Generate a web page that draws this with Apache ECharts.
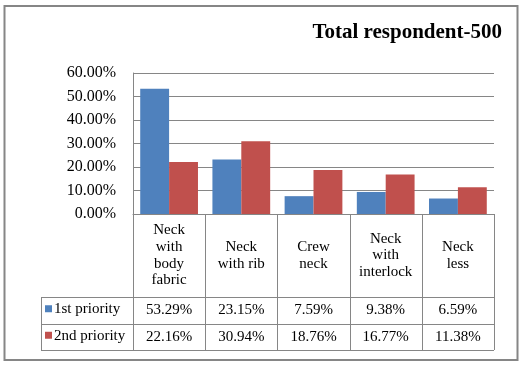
<!DOCTYPE html>
<html>
<head>
<meta charset="utf-8">
<script src="https://cdn.jsdelivr.net/npm/echarts@6/dist/echarts.min.js"></script>
<style>
html,body{margin:0;padding:0;background:#fff;}
#c{width:523px;height:365px;}
</style>
</head>
<body>
<div id="c"></div>
<script>
// ---- data ----
const categories = ['Neck\nwith\nbody\nfabric', 'Neck\nwith rib', 'Crew\nneck', 'Neck\nwith\ninterlock', 'Neck\nless'];
const seriesNames = ['1st priority', '2nd priority'];
const firstPriority = [53.29, 23.15, 7.59, 9.38, 6.59];
const secondPriority = [22.16, 30.94, 18.76, 16.77, 11.38];
const yMin = 0, yMax = 60, yInterval = 10;
const titleText = 'Total respondent-500';

const colors = ['#4F81BD', '#C0504D'];
const gray = '#868686';
const font = '"Liberation Serif", "Times New Roman", serif';

const chart = echarts.init(document.getElementById('c'), null, {renderer: 'canvas'});
chart.setOption({
  animation: false,
  backgroundColor: '#fff',
  title: {
    text: titleText, right: 21, top: 22, padding: 0,
    textStyle: {fontFamily: font, fontSize: 21, fontWeight: 'bold', color: '#000'}
  },
  grid: {left: 133, right: 29, top: 73, bottom: 151, containLabel: false},
  xAxis: {
    type: 'category', data: categories,
    axisLine: {show: true, lineStyle: {color: gray, width: 1}},
    axisTick: {show: false},
    axisLabel: {show: false},
    splitLine: {show: false}
  },
  yAxis: {
    type: 'value', min: yMin, max: yMax, interval: yInterval,
    axisLine: {show: true, lineStyle: {color: gray, width: 1}},
    axisTick: {show: false},
    axisLabel: {
      margin: 17, fontFamily: font, fontSize: 16, color: '#000',
      formatter: v => v.toFixed(2) + '%'
    },
    splitLine: {show: true, lineStyle: {color: gray, width: 1}}
  },
  series: [
    {name: seriesNames[0], type: 'bar', data: firstPriority, barGap: '0%', barCategoryGap: '20%', itemStyle: {color: colors[0]}},
    {name: seriesNames[1], type: 'bar', data: secondPriority, barGap: '0%', barCategoryGap: '20%', itemStyle: {color: colors[1]}}
  ]
});

// ---- data table built from the axis scale ----
const n = categories.length;
const x0 = chart.convertToPixel({xAxisIndex: 0}, 0);
const x1 = chart.convertToPixel({xAxisIndex: 0}, 1);
const step = x1 - x0;
const left = x0 - step / 2;
const right = left + step * n;
const yTop = chart.convertToPixel({yAxisIndex: 0}, yMin);
const headerH = 83;
const rowH = 26.5;
const tableLeft = 41;
const rowsY = [yTop + headerH, yTop + headerH + rowH, yTop + headerH + 2 * rowH];

const g = [];
const line = (xa, ya, xb, yb) => g.push({type: 'line', shape: {x1: xa, y1: ya, x2: xb, y2: yb}, style: {stroke: gray, lineWidth: 1}, silent: true});
// verticals at category boundaries
for (let i = 0; i <= n; i++) {
  const x = Math.round(left + step * i) + 0.5;
  line(x, yTop, x, rowsY[2]);
}
line(tableLeft + 0.5, rowsY[0], tableLeft + 0.5, rowsY[2]);
rowsY.forEach(y => line(tableLeft, Math.round(y) + 0.5, right, Math.round(y) + 0.5));

// header text
categories.forEach((c, i) => {
  g.push({type: 'text', x: x0 + step * i, y: yTop + headerH / 2, silent: true,
    style: {text: c, font: '15px ' + font, fill: '#000', align: 'center', verticalAlign: 'middle', lineHeight: 16.7}});
});
// value rows
[firstPriority, secondPriority].forEach((arr, r) => {
  const cy = rowsY[r] + rowH / 2;
  g.push({type: 'rect', shape: {x: 45, y: cy - 5, width: 7, height: 7}, style: {fill: colors[r]}, silent: true});
  g.push({type: 'text', x: 54, y: cy - 1, silent: true,
    style: {text: seriesNames[r], font: '15px ' + font, fill: '#000', align: 'left', verticalAlign: 'middle'}});
  arr.forEach((v, i) => {
    g.push({type: 'text', x: x0 + step * i, y: cy, silent: true,
      style: {text: v.toFixed(2) + '%', font: '15px ' + font, fill: '#000', align: 'center', verticalAlign: 'middle'}});
  });
});
// outer border
g.push({type: 'rect', shape: {x: 4.5, y: 6, width: 513, height: 354}, style: {fill: 'none', stroke: gray, lineWidth: 2}, silent: true});

chart.setOption({graphic: g});
</script>
</body>
</html>
